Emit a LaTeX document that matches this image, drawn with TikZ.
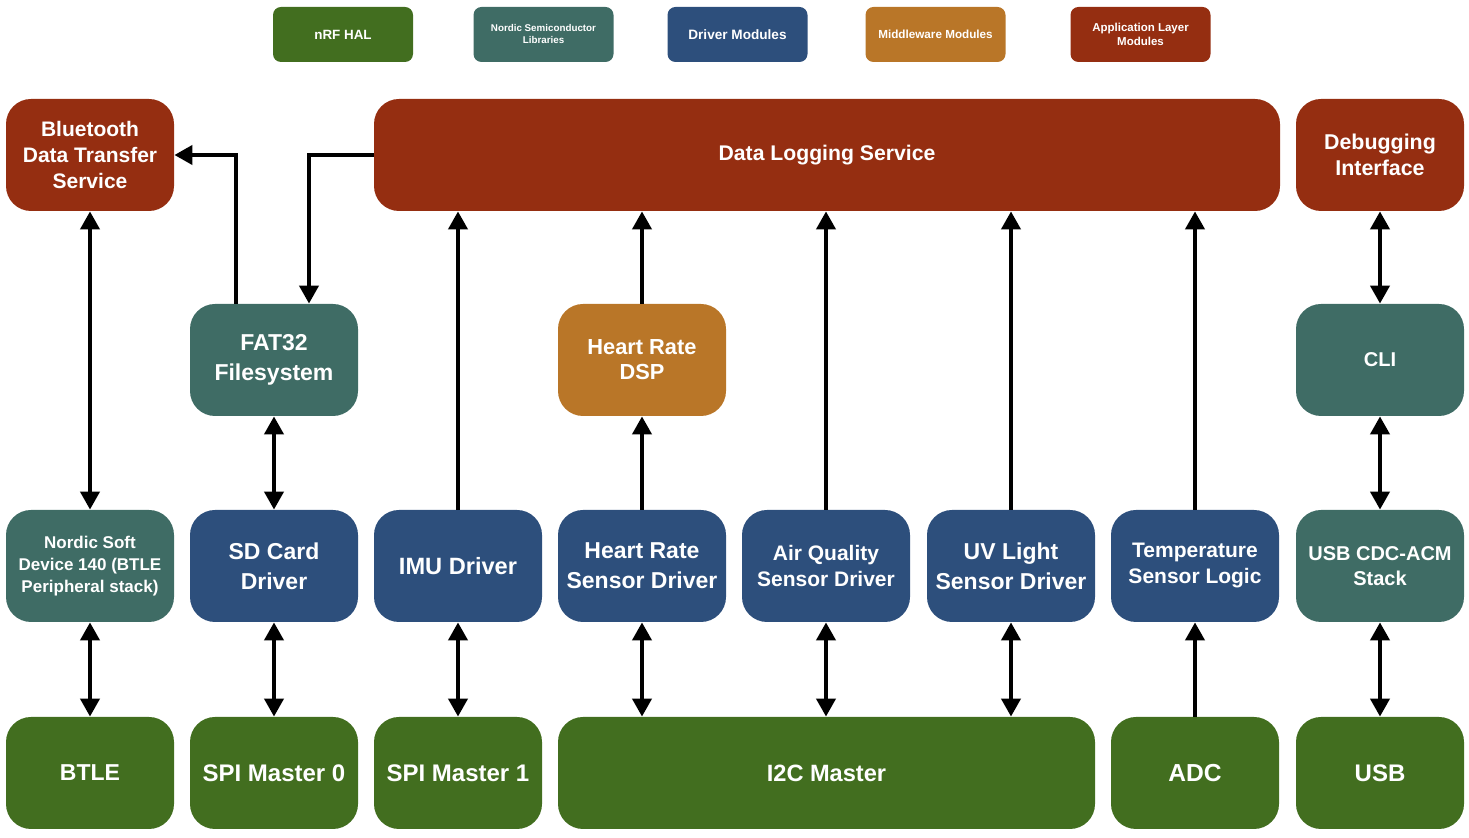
\documentclass[tikz,border=0pt]{standalone}
\usepackage{fontspec}
\setmainfont{Liberation Sans}
\usepackage{tikz}
\usetikzlibrary{arrows.meta,
           calc,                      % Calculs de coordonnées entre $ $
           positioning}
\definecolor{hal}{RGB}{66,110,31}
\definecolor{nordic}{RGB}{63,108,101}
\definecolor{drv}{RGB}{45,79,124}
\definecolor{mid}{RGB}{185,118,40}
\definecolor{appl}{RGB}{149,46,17}
\newcommand{\fs}[2]{\bfseries\fontsize{#1}{#2}\selectfont}
\tikzset{
  blk/.style={rounded corners=12.5pt,minimum width=84pt,minimum height=56pt,inner sep=1pt,
              text=white,align=center,font=\fs{11.5}{15}},
  lgd/.style={rounded corners=4pt,minimum width=70pt,minimum height=27.5pt,inner sep=1pt,
              text=white,align=center},
  link/.style={line width=2pt,-{Triangle[width=9.5pt,length=9pt]}},
  dlink/.style={line width=2pt,{Triangle[width=9.5pt,length=9pt]}-{Triangle[width=9.5pt,length=9pt]}}
}
\begin{document}
\begin{tikzpicture}[x=0.5pt,y=-0.5pt]
\useasboundingbox(0,0)rectangle(1469,838);
% legende
\node[lgd,fill=hal,font=\fs{6.7}{8}](lHAL)at(343,34.5){nRF HAL};
\node[lgd,fill=nordic,font=\fs{4.9}{6}](lNSL)at(543.5,34.5){Nordic Semiconductor\\Libraries};
\node[lgd,fill=drv,font=\fs{6.8}{8}](lDRV)at(737.5,34.5){Driver Modules};
\node[lgd,fill=mid,font=\fs{5.85}{7}](lMID)at(935.5,34.5){Middleware Modules};
\node[lgd,fill=appl,font=\fs{5.75}{7}](lAPP)at(1140.5,34.5){Application Layer\\Modules};
% application
\node[blk,fill=appl,font=\fs{10.5}{13}](BTS)at(90,155){Bluetooth\\Data Transfer\\Service};
\node[blk,fill=appl,font=\fs{10.6}{13},minimum width=453pt](DLS)at(827,155){Data Logging Service};
\node[blk,fill=appl,font=\fs{10.7}{13}](DBG)at(1380,155){Debugging\\Interface};
% middleware / libs
\node[blk,fill=nordic](FAT)at(274,360){FAT32\\Filesystem};
\node[blk,fill=mid,font=\fs{10.9}{12.5}](HRD)at(642,360){Heart Rate\\DSP};
\node[blk,fill=nordic,font=\fs{10}{12.5}](CLI)at(1380,360){CLI};
% drivers
\node[blk,fill=nordic,font=\fs{8.5}{11}](NSD)at(90,566){Nordic Soft\\Device 140 (BTLE\\Peripheral stack)};
\node[blk,fill=drv](SDD)at(274,566){SD Card\\Driver};
\node[blk,fill=drv,font=\fs{11.8}{15}](IMU)at(458,566){IMU Driver};
\node[blk,fill=drv](HRS)at(642,566){Heart Rate\\Sensor Driver};
\node[blk,fill=drv,font=\fs{10.5}{13}](AQS)at(826,566){Air Quality\\Sensor Driver};
\node[blk,fill=drv](UVS)at(1011,566){UV Light\\Sensor Driver};
\node[blk,fill=drv,font=\fs{10.5}{13}](TMP)at(1195,566){Temperature\\Sensor Logic};
\node[blk,fill=nordic,font=\fs{10}{12.5}](CDC)at(1380,566){USB CDC-ACM\\Stack};
% HAL
\node[blk,fill=hal](BTLE)at(90,773){BTLE};
\node[blk,fill=hal,font=\fs{12}{15}](SPI0)at(274,773){SPI Master 0};
\node[blk,fill=hal,font=\fs{12}{15}](SPI1)at(458,773){SPI Master 1};
\node[blk,fill=hal,font=\fs{11.8}{15},minimum width=268.5pt](I2C)at(826.5,773){I2C Master};
\node[blk,fill=hal,font=\fs{12.3}{15}](ADC)at(1195,773){ADC};
\node[blk,fill=hal,font=\fs{12}{15}](USB)at(1380,773){USB};
% liaisons
\draw[dlink](BTS.south)--(NSD.north);
\draw[dlink](NSD.south)--(BTLE.north);
\draw[link]($(FAT.north)+(-38,0)$)|-(BTS.east);
\draw[link](DLS.west)-|($(FAT.north)+(35,0)$);
\draw[dlink](FAT.south)--(SDD.north);
\draw[dlink](SDD.south)--(SPI0.north);
\draw[link](IMU.north)--(IMU.north|-DLS.south);
\draw[dlink](IMU.south)--(SPI1.north);
\draw[link](HRS.north)--(HRD.south);
\draw[link](HRD.north)--(HRD.north|-DLS.south);
\draw[dlink](HRS.south)--(HRS.south|-I2C.north);
\draw[link](AQS.north)--(AQS.north|-DLS.south);
\draw[dlink](AQS.south)--(AQS.south|-I2C.north);
\draw[link](UVS.north)--(UVS.north|-DLS.south);
\draw[dlink](UVS.south)--(UVS.south|-I2C.north);
\draw[link](TMP.north)--(TMP.north|-DLS.south);
\draw[link](ADC.north)--(TMP.south);
\draw[dlink](DBG.south)--(CLI.north);
\draw[dlink](CLI.south)--(CDC.north);
\draw[dlink](CDC.south)--(USB.north);
\end{tikzpicture}
\end{document}
